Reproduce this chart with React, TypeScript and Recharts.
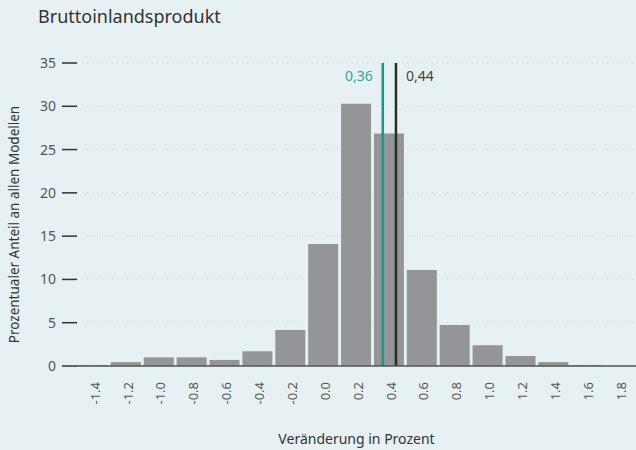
import {
  BarChart, Bar, XAxis, YAxis, CartesianGrid, ReferenceLine, Label,
} from "recharts";

const FONT = "'Noto Sans', 'Open Sans', sans-serif";

const bins = [-1.4, -1.2, -1.0, -0.8, -0.6, -0.4, -0.2, 0.0, 0.2, 0.4, 0.6, 0.8, 1.0, 1.2, 1.4, 1.6, 1.8];
const shares = [0.1, 0.45, 1.0, 1.0, 0.7, 1.7, 4.15, 14.1, 30.3, 26.85, 11.1, 4.75, 2.4, 1.15, 0.45, 0.1, 0];
const yTicks = [0, 5, 10, 15, 20, 25, 30, 35];
const markers = [
  { x: 0.36, label: "0,36", color: "#17998a", text: "#2fa899", side: "left" },
  { x: 0.44, label: "0,44", color: "#2b2b2b", text: "#444", side: "right" },
];

const data = bins.map((b, i) => ({ bin: b, share: shares[i] }));

export default function App() {
  return (
    <div style={{ position: "fixed", left: 0, top: 0, width: 636, height: 450, background: "#e7f0f2", fontFamily: FONT }}>
      <div style={{ position: "absolute", left: 38, top: 4, fontSize: 18, color: "#333" }}>
        Bruttoinlandsprodukt
      </div>
      <BarChart width={636} height={450} data={data} margin={{ top: 63, right: 0, bottom: 0, left: 0 }}>
        <CartesianGrid vertical={false} stroke="#c9d2d5" strokeDasharray="1 4" />
        <XAxis
          dataKey="bin"
          type="number"
          domain={[-1.5, 1.9]}
          ticks={bins}
          tickFormatter={(v: number) => v.toFixed(1)}
          interval={0}
          height={84}
          tickLine={false}
          axisLine={{ stroke: "#555", strokeWidth: 1.5 }}
          angle={-90}
          textAnchor="end"
          tick={{ fontSize: 13, fill: "#555", fontFamily: FONT, dx: -3 }}
          tickMargin={10}
        >
          <Label value="Veränderung in Prozent" position="insideBottom" offset={6} style={{ fontSize: 14, fill: "#333", fontFamily: FONT }} />
        </XAxis>
        <YAxis
          domain={[0, 35]}
          ticks={yTicks}
          width={77}
          axisLine={false}
          tickSize={15}
          tickLine={{ stroke: "#333", strokeWidth: 1.5 }}
          tickMargin={6}
          tick={{ fontSize: 14, fill: "#555", fontFamily: FONT }}
        >
          <Label value="Prozentualer Anteil an allen Modellen" angle={-90} position="insideLeft" offset={14} dy={10} style={{ textAnchor: "middle", fontSize: 13.5, fill: "#333", fontFamily: FONT }} />
        </YAxis>
        <Bar dataKey="share" fill="#939598" barSize={30} isAnimationActive={false} />
        {markers.map((m) => (
          <ReferenceLine
            key={m.label}
            x={m.x}
            stroke={m.color}
            strokeWidth={2.5}
            label={(props: any) => {
              const vb = props.viewBox || {};
              const left = m.side === "left";
              return (
                <text
                  x={left ? vb.x - 10 : vb.x + 10}
                  y={vb.y + 18}
                  textAnchor={left ? "end" : "start"}
                  fontSize={14}
                  fill={m.text}
                  fontFamily={FONT}
                >
                  {m.label}
                </text>
              );
            }}
          />
        ))}
      </BarChart>
    </div>
  );
}
